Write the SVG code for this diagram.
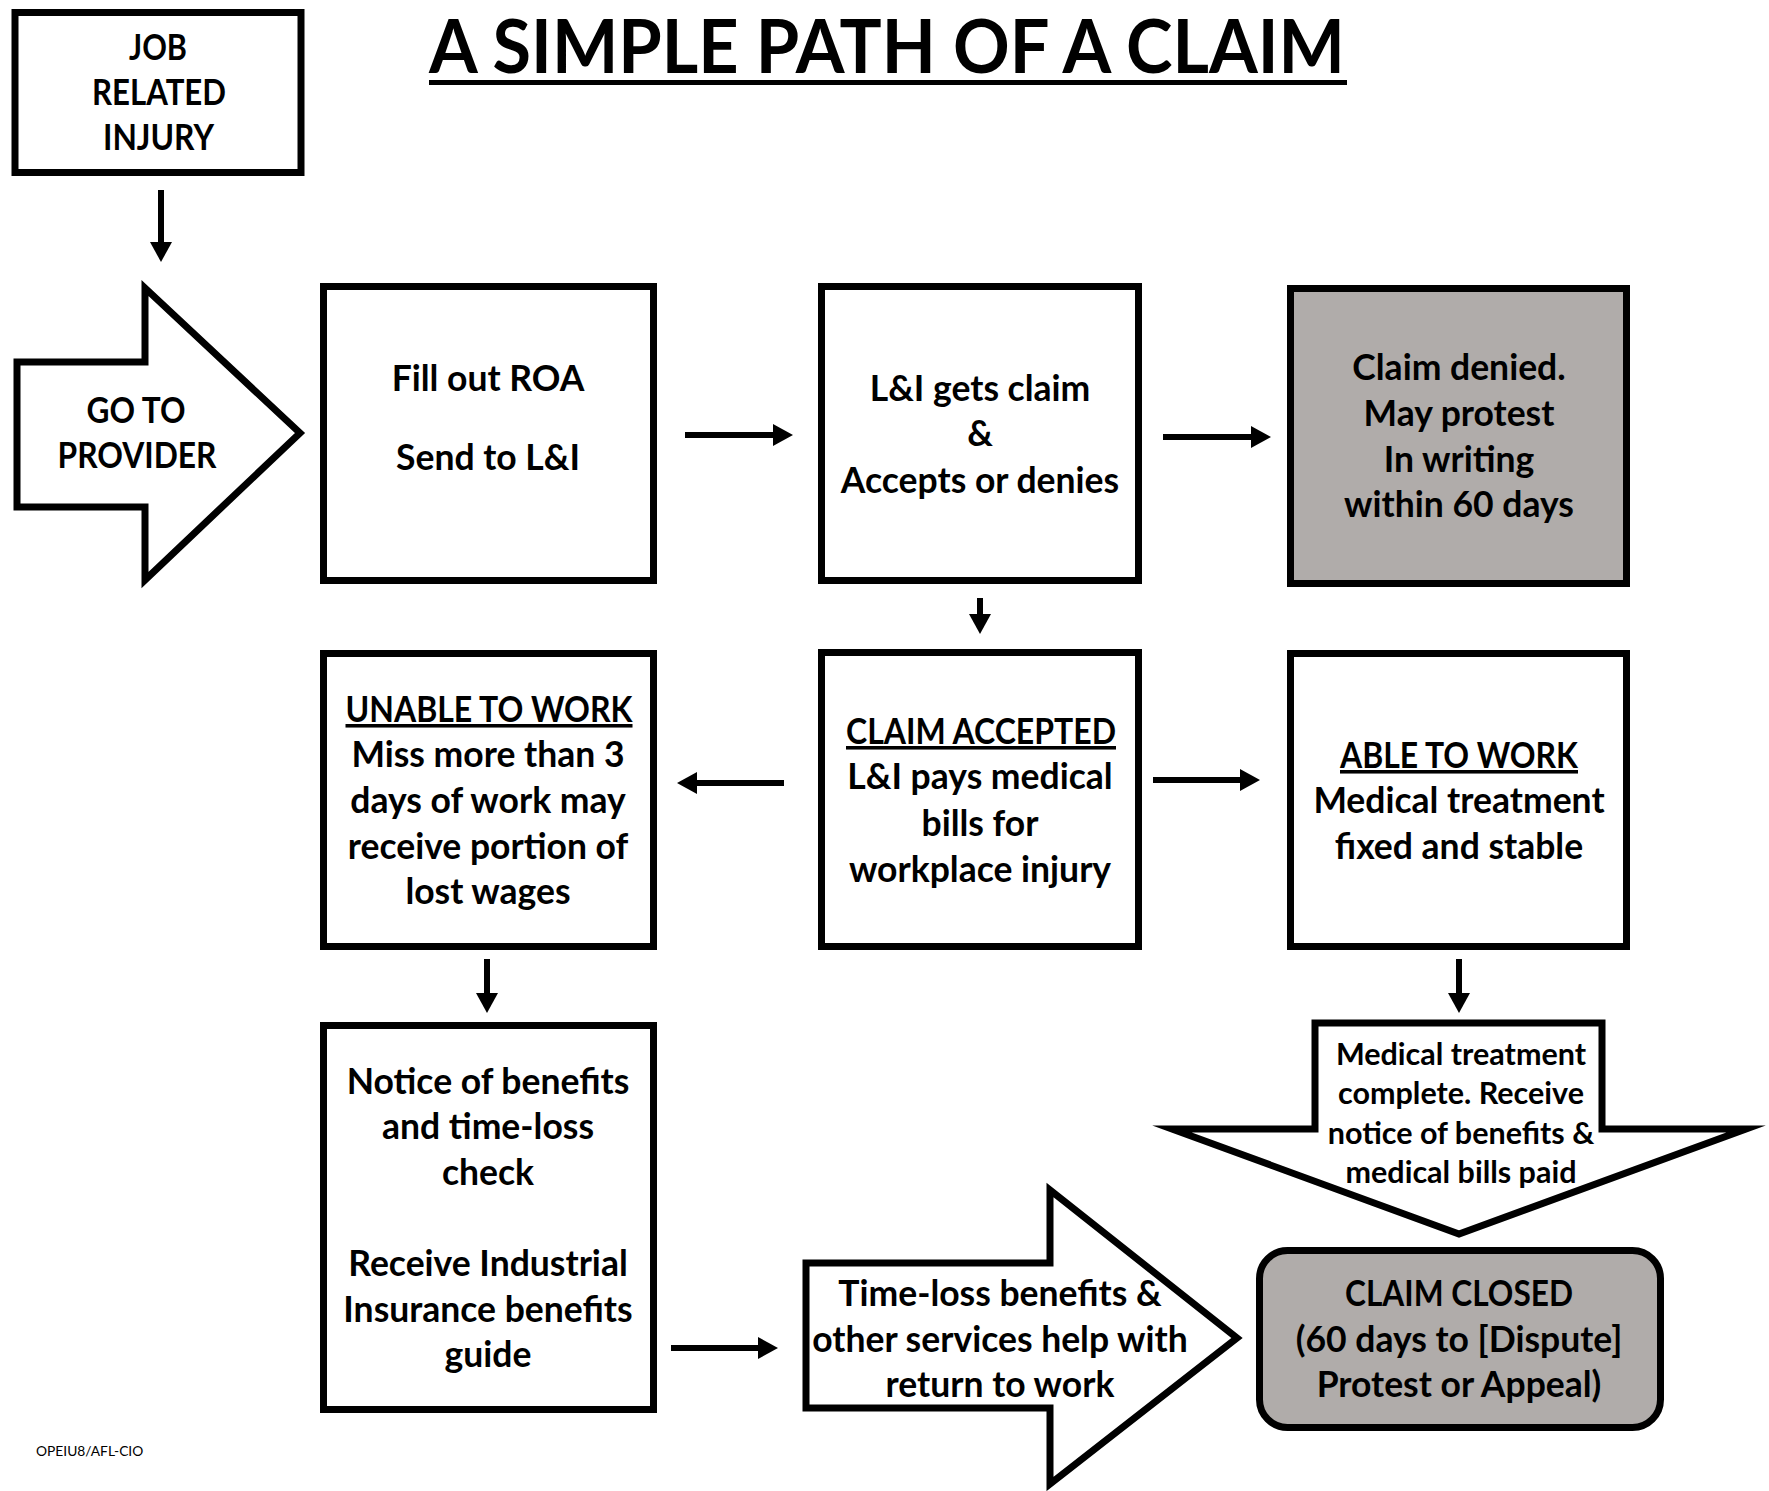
<svg xmlns="http://www.w3.org/2000/svg" width="1769" height="1491" viewBox="0 0 1769 1491">
<defs>
<style>
.box{fill:#ffffff;stroke:#000000;stroke-width:7;stroke-miterlimit:10}
.gray{fill:#b0acaa}
.t{font-family:Lato,"Liberation Sans",sans-serif;font-weight:bold;font-size:35.5px;fill:#000000;text-anchor:middle}
.s{font-size:30.5px}
.u{text-decoration:underline}
.con{stroke:#000000;stroke-width:6;fill:none}
</style>
<marker id="ah" markerUnits="userSpaceOnUse" markerWidth="20" markerHeight="22" viewBox="0 0 20 22" refX="0" refY="11" orient="auto">
<path d="M0,0 L20,11 L0,22 Z" fill="#000000"/>
</marker>
</defs>
<rect width="1769" height="1491" fill="#ffffff"/>
<g id="title">
<text x="887" y="73" font-family="Lato,'Liberation Sans',sans-serif" font-weight="bold" font-size="75" text-anchor="middle" textLength="916" lengthAdjust="spacingAndGlyphs">A SIMPLE PATH OF A CLAIM</text>
<rect x="429" y="80" width="918" height="5" fill="#000000"/>
</g>
<g id="job">
<rect class="box" x="15" y="12.5" width="286" height="160"/>
<text class="t" x="158" y="60" textLength="58" lengthAdjust="spacingAndGlyphs">JOB</text>
<text class="t" x="159" y="105" textLength="134" lengthAdjust="spacingAndGlyphs">RELATED</text>
<text class="t" x="158.5" y="150" textLength="111" lengthAdjust="spacingAndGlyphs">INJURY</text>
</g>
<g id="provider">
<path class="box" d="M17,362 H145 V288 L300,433 L145,580 V507 H17 Z"/>
<text class="t" x="136" y="423" textLength="99" lengthAdjust="spacingAndGlyphs">GO TO</text>
<text class="t" x="137" y="468" textLength="159" lengthAdjust="spacingAndGlyphs">PROVIDER</text>
</g>
<g id="roa">
<rect class="box" x="323.5" y="286.5" width="330" height="294"/>
<text class="t"><tspan x="488" y="391">Fill out ROA</tspan><tspan x="488" y="470">Send to L&amp;I</tspan></text>
</g>
<g id="li">
<rect class="box" x="821.5" y="286.5" width="317" height="294"/>
<text class="t"><tspan x="980" y="401">L&amp;I gets claim</tspan><tspan x="980" y="446">&amp;</tspan><tspan x="980" y="493">Accepts or denies</tspan></text>
</g>
<g id="denied">
<rect class="box gray" x="1290.5" y="288.5" width="336" height="295"/>
<text class="t"><tspan x="1459" y="380">Claim denied.</tspan><tspan x="1459" y="426">May protest</tspan><tspan x="1459" y="472">In writing</tspan><tspan x="1459" y="517">within 60 days</tspan></text>
</g>
<g id="unable">
<rect class="box" x="323.5" y="653.5" width="330" height="293"/>
<text class="t u" x="489" y="722" textLength="287" lengthAdjust="spacingAndGlyphs">UNABLE TO WORK</text>
<text class="t"><tspan x="488" y="767">Miss more than 3</tspan><tspan x="488" y="813">days of work may</tspan><tspan x="488" y="859">receive portion of</tspan><tspan x="488" y="904">lost wages</tspan></text>
</g>
<g id="accepted">
<rect class="box" x="821.5" y="652.5" width="317" height="294"/>
<text class="t u" x="981" y="744" textLength="270" lengthAdjust="spacingAndGlyphs">CLAIM ACCEPTED</text>
<text class="t"><tspan x="980" y="789">L&amp;I pays medical</tspan><tspan x="980" y="836">bills for</tspan><tspan x="980" y="882">workplace injury</tspan></text>
</g>
<g id="able">
<rect class="box" x="1290.5" y="653.5" width="336" height="293"/>
<text class="t u" x="1459" y="768" textLength="238" lengthAdjust="spacingAndGlyphs">ABLE TO WORK</text>
<text class="t"><tspan x="1459" y="813">Medical treatment</tspan><tspan x="1459" y="859">fixed and stable</tspan></text>
</g>
<g id="notice">
<rect class="box" x="323.5" y="1025.5" width="330" height="384"/>
<text class="t"><tspan x="488" y="1094">Notice of benefits</tspan><tspan x="488" y="1139">and time-loss</tspan><tspan x="488" y="1185">check</tspan><tspan x="488" y="1276">Receive Industrial</tspan><tspan x="488" y="1322">Insurance benefits</tspan><tspan x="488" y="1367">guide</tspan></text>
</g>
<g id="timeloss">
<path class="box" d="M806,1263 H1050 V1190 L1237,1338 L1050,1484 V1408 H806 Z"/>
<text class="t"><tspan x="1000" y="1306">Time-loss benefits &amp;</tspan><tspan x="1000" y="1352">other services help with</tspan><tspan x="1000" y="1397">return to work</tspan></text>
</g>
<g id="medical">
<path class="box" d="M1315,1023 H1602 V1129 H1746 L1459,1234 L1172,1129 H1315 Z"/>
<text class="t s"><tspan x="1461" y="1065">Medical treatment</tspan><tspan x="1461" y="1104">complete. Receive</tspan><tspan x="1461" y="1144">notice of benefits &amp;</tspan><tspan x="1461" y="1183">medical bills paid</tspan></text>
</g>
<g id="closed">
<rect class="box gray" x="1259.5" y="1250.5" width="401" height="177" rx="28"/>
<text class="t" x="1459" y="1306" textLength="228" lengthAdjust="spacingAndGlyphs">CLAIM CLOSED</text>
<text class="t"><tspan x="1459" y="1352">(60 days to [Dispute]</tspan><tspan x="1459" y="1397">Protest or Appeal)</tspan></text>
</g>
<g id="footer">
<text x="36" y="1456" font-family="Lato,'Liberation Sans',sans-serif" font-size="13.8" fill="#000000">OPEIU8/AFL-CIO</text>
</g>
<g id="connectors">
<line class="con" x1="161" y1="190" x2="161" y2="242" marker-end="url(#ah)"/>
<line class="con" x1="685" y1="435" x2="773" y2="435" marker-end="url(#ah)"/>
<line class="con" x1="1163" y1="437" x2="1251" y2="437" marker-end="url(#ah)"/>
<line class="con" x1="980" y1="598" x2="980" y2="614" marker-end="url(#ah)"/>
<line class="con" x1="784" y1="783" x2="697" y2="783" marker-end="url(#ah)"/>
<line class="con" x1="1153" y1="780" x2="1240" y2="780" marker-end="url(#ah)"/>
<line class="con" x1="487" y1="959" x2="487" y2="993" marker-end="url(#ah)"/>
<line class="con" x1="1459" y1="959" x2="1459" y2="993" marker-end="url(#ah)"/>
<line class="con" x1="671" y1="1348" x2="758" y2="1348" marker-end="url(#ah)"/>
</g>
</svg>
